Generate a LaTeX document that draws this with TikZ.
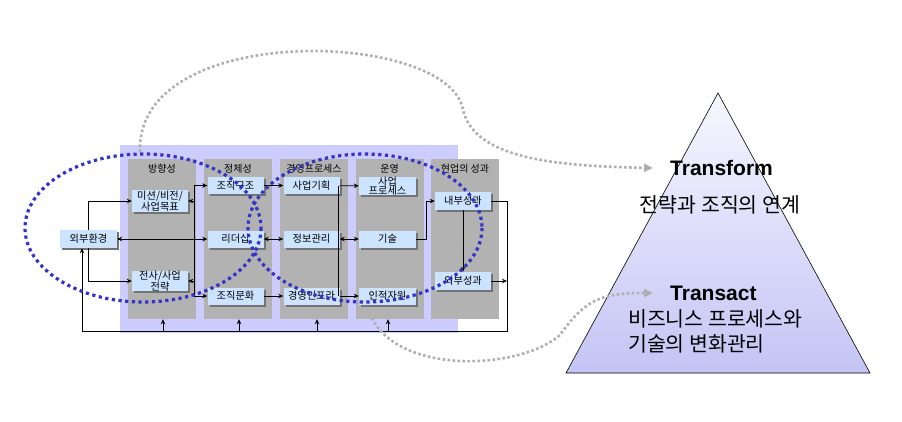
\documentclass[tikz,border=0pt]{standalone}
\usepackage{fontspec}
\setmainfont{Liberation Sans}
\newfontfamily\kr{Noto Sans CJK KR}
\usetikzlibrary{arrows.meta,shadows,calc}
\definecolor{bgpurple}{RGB}{204,204,255}
\definecolor{colgray}{RGB}{178,178,178}
\definecolor{boxblue}{RGB}{204,228,255}
\definecolor{dotblue}{RGB}{51,51,204}
\definecolor{curvegray}{RGB}{175,175,175}
\definecolor{tritop}{RGB}{247,247,255}
\definecolor{tribot}{RGB}{196,196,245}
\begin{document}
\begin{tikzpicture}[x=1pt,y=-1pt,
    col/.style={fill=colgray, minimum width=68pt, minimum height=160pt, inner sep=0pt},
    head/.style={font=\kr\fontsize{10}{10}\selectfont, inner sep=0pt},
    blk/.style={fill=boxblue, minimum width=56pt, minimum height=17pt, inner sep=0pt, align=center,
      font=\kr\fontsize{10.2}{9.5}\selectfont,
      general shadow={fill=black!55, shadow xshift=2pt, shadow yshift=-2pt}},
    arr/.style={line width=0.8pt, -{Stealth[length=5pt,width=4.5pt]}},
    arrs/.style={line width=0.8pt, {Stealth[length=5pt,width=4.5pt]}-{Stealth[length=5pt,width=4.5pt]}},
    ring/.style={dotblue, line width=3.2pt, dash pattern=on 3.2pt off 3.5pt},
    link/.style={curvegray, line width=2.6pt, dash pattern=on 2.6pt off 2.4pt, -{Triangle[length=9pt,width=8pt]}}]
  \useasboundingbox (0,0) rectangle (902,421);
  \fill[bgpurple] (120,145) rectangle (458,333);
  \node[col] (c1) at (162,239) {};
  \node[col] (c2) at (238,239) {};
  \node[col] (c3) at (314,239) {};
  \node[col] (c4) at (389.5,239) {};
  \node[col] (c5) at (465,239) {};
  \node[head] at ($(c1.north)+(0,10)$) {방향성};
  \node[head] at ($(c2.north)+(0,10)$) {정체성};
  \node[head] at ($(c3.north)+(0,10)$) {경영프로세스};
  \node[head] at ($(c4.north)+(0,10)$) {운영};
  \node[head] at ($(c5.north)+(0,10)$) {현업의 성과};
  \node[blk, minimum width=57pt, minimum height=18pt] (env) at (88.5,239) {외부환경};
  \node[blk, minimum height=22pt] (mis) at (160,201) {미션/비전/\\사업목표};
  \node[blk, minimum height=18pt] (str) at (160,281) {전사/사업\\전략};
  \node[blk] (org) at (235.5,185.5) {조직구조};
  \node[blk] (lead) at (235.5,239) {리더십};
  \node[blk] (cul) at (235.5,296) {조직문화};
  \node[blk] (plan) at (311.5,185.5) {사업기획};
  \node[blk] (info) at (311.5,239) {정보관리};
  \node[blk] (infra) at (311.5,296) {경영인프라};
  \node[blk, minimum width=57pt, minimum height=18pt] (proc) at (387.5,186) {사업\\프로세스};
  \node[blk, minimum width=57pt] (tech) at (387.5,239) {기술};
  \node[blk, minimum width=57pt] (hr) at (387.5,296) {인적자원};
  \node[blk, minimum height=18pt] (inp) at (463,201) {내부성과};
  \node[blk, minimum height=18pt] (outp) at (463,281) {외부성과};
  \coordinate (s1) at (194,185.5);
  \coordinate (s2) at (194,296);
  \coordinate (p1) at (338,185.5);
  \coordinate (p2) at (338,296);
  \coordinate (rb) at (507,331);
  \coordinate (fb) at (82,331);
  \draw[arr] (env.north) |- (mis.west);
  \draw[arr] (env.south) |- (str.west);
  \draw[arrs] (env.east) -- (lead.west);
  \draw[line width=0.8pt] (s1) -- (s2);
  \draw[arr] (s1) -- (org.west);
  \draw[arr] (s2) -- (cul.west);
  \draw[arr] (s1 |- mis.east) -- (mis.east);
  \draw[arr] (s1 |- str.east) -- (str.east);
  \draw[arr] (org) -- (plan);
  \draw[arrs] (lead) -- (info);
  \draw[arr] (cul) -- (infra);
  \draw[line width=0.8pt] (p1) -- (p2);
  \draw[arr] (plan) -- (proc);
  \draw[arrs] (info) -- (tech);
  \draw[arr] (infra) -- (hr);
  \draw[arr] (tech.east) -- ++(10,0) |- (inp.west);
  \draw[arr] (inp.south) -- (outp.north);
  \draw[arr] (inp.east) -| (rb) -- (fb) -- (fb |- env.south);
  \draw[arr] (outp.east) -- (outp.east -| rb);
  \foreach \c/\dx in {c1/1,c2/1,c3/3,c4/-1.5}
    \draw[arr] ([xshift=\dx pt]\c.south |- rb) -- ([xshift=\dx pt]\c.south);
  \draw[ring] (143,228) ellipse [x radius=118, y radius=74];
  \draw[ring] (365,228) ellipse [x radius=117, y radius=74];
  \draw[black, line width=0.6pt, top color=tritop, bottom color=tribot] (718,93) -- (870,373) -- (566,373) -- cycle;
  \node[font=\bfseries\fontsize{21}{22}\selectfont, inner sep=0pt, anchor=west] (tf) at (670,168) {Transform};
  \node[font=\kr\fontsize{20.5}{22}\selectfont, inner sep=0pt] (tfk) at (720,205) {전략과 조직의 연계};
  \node[font=\bfseries\fontsize{21}{22}\selectfont, inner sep=0pt, anchor=west] (ta) at (670,293) {Transact};
  \node[font=\kr\fontsize{20.5}{25}\selectfont, inner sep=0pt, align=left, anchor=west] (tak) at (628,331) {비즈니스 프로세스와\\기술의 변화관리};
  \coordinate (l1) at (140,152);
  \coordinate (l2) at (372,318);
  \draw[link] (l1) .. controls (135,20) and (450,30) .. (463,110) .. controls (475,160) and (560,166) .. ([xshift=-17pt]tf.west);
  \draw[link] (l2) .. controls (400,375) and (520,370) .. (560,335) .. controls (585,300) and (600,293) .. ([xshift=-17pt]ta.west);
\end{tikzpicture}
\end{document}
